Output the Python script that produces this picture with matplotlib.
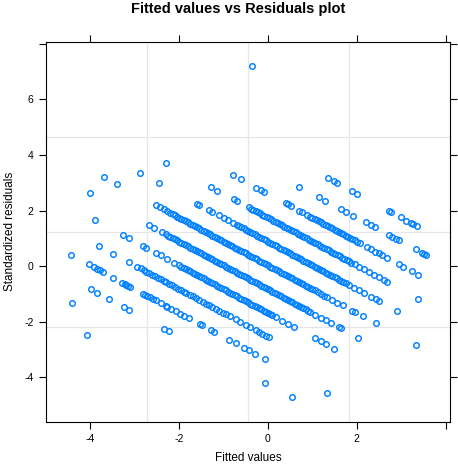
import matplotlib
matplotlib.use("Agg")
import matplotlib.pyplot as plt
import numpy as np

plt.rcParams['font.family'] = ['Liberation Sans', 'DejaVu Sans']

# model scale: standardized residual = (observed - fitted) / resid_sd
resid_sd = 1.167
level_offset = 0.035

fit_p8 = [-0.37]
fit_p5 = [1.35, 1.48, 1.55, 1.89, 2.01, 2.72, 2.77, 2.99, 3.12, 3.22, 3.27, 3.35]
fit_p4 = [0.71, 1.15, 1.28, 1.64, 1.75, 1.91, 2.20, 2.31, 2.40, 2.72, 2.80,
          2.88, 2.95, 3.33, 3.46, 3.52, 3.57]
fit_p3 = [-0.78, -0.61, -0.26, -0.16, -0.09, 0.40, 0.44, 0.51, 0.70, 0.77, 0.89,
          0.95, 1.00, 1.05, 1.10, 1.15, 1.20, 1.25, 1.30, 1.35, 1.40, 1.45, 1.50,
          1.55, 1.60, 1.65, 1.70, 1.75, 1.80, 1.85, 1.90, 1.95, 2.00, 2.07,
          2.24, 2.31, 2.42, 2.49, 2.56, 2.67, 2.95, 3.05, 3.25, 3.39]
fit_p2 = [-2.29, -1.29, -1.14, -0.77, -0.69,
          -0.43, -0.38, -0.33, -0.28, -0.23, -0.18, -0.13, -0.08, -0.03, 0.02,
          0.07, 0.12, 0.17, 0.22, 0.27, 0.32, 0.37, 0.42, 0.47, 0.52, 0.57, 0.62,
          0.67, 0.72, 0.77, 0.82, 0.87, 0.92, 0.97, 1.02, 1.07, 1.12, 1.17, 1.22,
          1.27, 1.32, 1.37, 1.42, 1.47, 1.52, 1.57, 1.62, 1.67, 1.72, 1.77, 1.82,
          1.88, 1.95,
          2.05, 2.16, 2.27, 2.39, 2.50, 2.61, 2.69, 3.39]
fit_p1 = [-2.88, -2.45, -1.59, -1.55, -1.33, -1.25, -1.10, -0.98, -0.90, -0.79,
          -0.70, -0.65, -0.60, -0.55, -0.50, -0.45, -0.40, -0.35, -0.30, -0.25,
          -0.20, -0.15, -0.10, -0.05, 0.00, 0.05, 0.10, 0.15, 0.20, 0.25, 0.30,
          0.35, 0.40, 0.45, 0.50, 0.55, 0.60, 0.65, 0.70, 0.75, 0.80, 0.85, 0.90,
          0.95, 1.00, 1.05, 1.10, 1.15, 1.20, 1.25, 1.30, 1.35, 1.40, 1.45, 1.50,
          1.55, 1.60, 1.65, 1.70, 1.75,
          1.82, 1.94, 2.05, 2.16, 2.31, 2.43, 2.50, 2.91]
fit_0 = [-3.69, -3.40,
         -2.53, -2.43, -2.35, -2.27, -2.20, -2.15, -2.10, -2.05, -2.00, -1.95,
         -1.90, -1.85, -1.80, -1.75, -1.70, -1.65, -1.60, -1.55, -1.50, -1.45,
         -1.40, -1.35, -1.30, -1.25, -1.20, -1.15, -1.10, -1.05, -1.00, -0.95,
         -0.90, -0.85, -0.80, -0.75, -0.70, -0.65, -0.60, -0.55, -0.50, -0.45,
         -0.40, -0.35, -0.30, -0.25, -0.20, -0.15, -0.10, -0.05, 0.00, 0.05,
         0.10, 0.15, 0.20, 0.25, 0.30, 0.35, 0.40, 0.45, 0.50, 0.55, 0.60, 0.65,
         0.70, 0.75, 0.80, 0.85, 0.90, 0.95, 1.00, 1.05,
         1.12, 1.20, 1.27, 1.34, 1.45, 1.56, 1.68, 1.90, 1.96, 2.13, 2.43, 3.34]
fit_m1 = [-4.02, -2.68, -2.57, -2.38,
          -2.30, -2.25, -2.20, -2.15, -2.10, -2.05, -2.00, -1.95, -1.90, -1.85,
          -1.80, -1.75, -1.70, -1.65, -1.60, -1.55, -1.50, -1.45, -1.40, -1.35,
          -1.30, -1.25, -1.20, -1.15, -1.10, -1.05, -1.00, -0.95, -0.90, -0.85,
          -0.80, -0.75, -0.70, -0.65, -0.60, -0.55, -0.50, -0.45, -0.40, -0.35,
          -0.30, -0.25, -0.20, -0.15, -0.10, -0.05, 0.00, 0.05, 0.10, 0.15, 0.20,
          0.25, 0.30, 0.35, 0.40, 0.45, 0.50, 0.55, 0.60, 0.65, 0.70, 0.75, 0.80,
          0.85, 0.90, 0.95,
          1.07, 1.19, 1.30, 1.41, 1.60, 1.64, 2.03]
fit_m2 = [-3.90, -3.27, -3.14, -2.82, -2.74, -2.53, -2.42, -2.27, -2.12,
          -2.00, -1.95, -1.90, -1.85, -1.80, -1.75, -1.70, -1.65, -1.60, -1.55,
          -1.50, -1.45, -1.40, -1.35, -1.30, -1.25, -1.20, -1.15, -1.10, -1.05,
          -1.00, -0.95, -0.90, -0.85, -0.80, -0.75, -0.70, -0.65, -0.60, -0.55,
          -0.50, -0.45, -0.40, -0.35, -0.30, -0.25, -0.20, -0.15, -0.10, -0.05,
          0.00, 0.05, 0.10, 0.17,
          0.32, 0.44, 0.59, 1.05, 1.19, 1.30, 1.49]
fit_m3 = [-3.81, -3.49, -3.13,
          -2.94, -2.87, -2.80, -2.74, -2.68, -2.61, -2.55, -2.48, -2.42, -2.35,
          -2.29, -2.22, -2.16, -2.09, -2.02, -1.96, -1.89, -1.85, -1.76, -1.70,
          -1.62, -1.55, -1.47, -1.40, -1.32, -1.25, -1.17, -1.10, -1.02, -0.95,
          -0.86, -0.73, -0.62, -0.50, -0.40, -0.28, -0.20, -0.13, -0.05, 0.02]
fit_m4 = [-4.44, -4.04, -3.92, -3.84, -3.79, -3.71, -3.49, -3.28, -3.23, -3.19,
          -3.15, -3.10, -2.82, -2.77, -2.72, -2.66, -2.60, -2.53, -2.42, -2.30,
          -2.27, -2.18, -2.08, -1.98, -1.89, -1.78, -1.54, -1.49, -1.29, -1.22,
          -0.88, -0.73, -0.54, -0.43, -0.30, -0.07, 1.34]
fit_m5 = [-3.99, -3.84, -3.58, -3.24, -3.13, -2.34, -2.23, -0.07, 0.53]
fit_m6 = [-4.41]
fit_m7 = [-4.08]

levels = [(8, fit_p8), (5, fit_p5), (4, fit_p4), (3, fit_p3), (2, fit_p2),
          (1, fit_p1), (0, fit_0), (-1, fit_m1), (-2, fit_m2), (-3, fit_m3),
          (-4, fit_m4), (-5, fit_m5), (-6, fit_m6), (-7, fit_m7)]

x_ticks = [-4, -2, 0, 2, 4]
x_tick_labels = ['-4', '-2', '0', '2', '']
y_ticks = [-4, -2, 0, 2, 4, 6, 8]
y_tick_labels = ['-4', '-2', '0', '2', '4', '6', '']

fig = plt.figure(figsize=(4.58, 4.70), dpi=100)
ax = fig.add_axes([46 / 458, 48 / 470, 404 / 458, 380 / 470])

xlim = (-5.0, 4.1)
ylim = (-5.6, 8.06)
ax.set_xlim(xlim)
ax.set_ylim(ylim)

# lattice-style reference grid: 3 lines splitting each range evenly
for i in range(1, 4):
    ax.axvline(xlim[0] + (xlim[1] - xlim[0]) * i / 4, color='#e6e6e6', lw=0.9, zorder=0)
    ax.axhline(ylim[0] + (ylim[1] - ylim[0]) * i / 4, color='#e6e6e6', lw=0.9, zorder=0)

for lvl, fitted in levels:
    fitted = np.array(fitted)
    resid = (lvl + level_offset - fitted) / resid_sd
    ax.plot(fitted, resid, linestyle='none', marker='o', ms=4.0, mfc='none',
            mec='#0080ff', mew=1.05, zorder=2)

ax.set_xticks(x_ticks)
ax.set_xticklabels(x_tick_labels)
ax.set_yticks(y_ticks)
ax.set_yticklabels(y_tick_labels)
ax.tick_params(direction='out', length=5, width=0.8, top=True, right=True,
               labeltop=False, labelright=False, labelsize=7.5, pad=4, colors='black')
for s in ax.spines.values():
    s.set_linewidth(0.8)

fig.text(46 / 458 + 202 / 458, 9 / 470, 'Fitted values', ha='center', va='baseline', fontsize=8.5)
fig.text(10 / 458, 0.5 + 4 / 470, 'Standardized residuals', rotation=90, ha='center',
         va='center', fontsize=8.5)
fig.text(238 / 458, 1 - 13 / 470, 'Fitted values vs Residuals plot', ha='center',
         va='baseline', fontsize=10.5, fontweight='bold')

fig.savefig('out.png', dpi=100)
